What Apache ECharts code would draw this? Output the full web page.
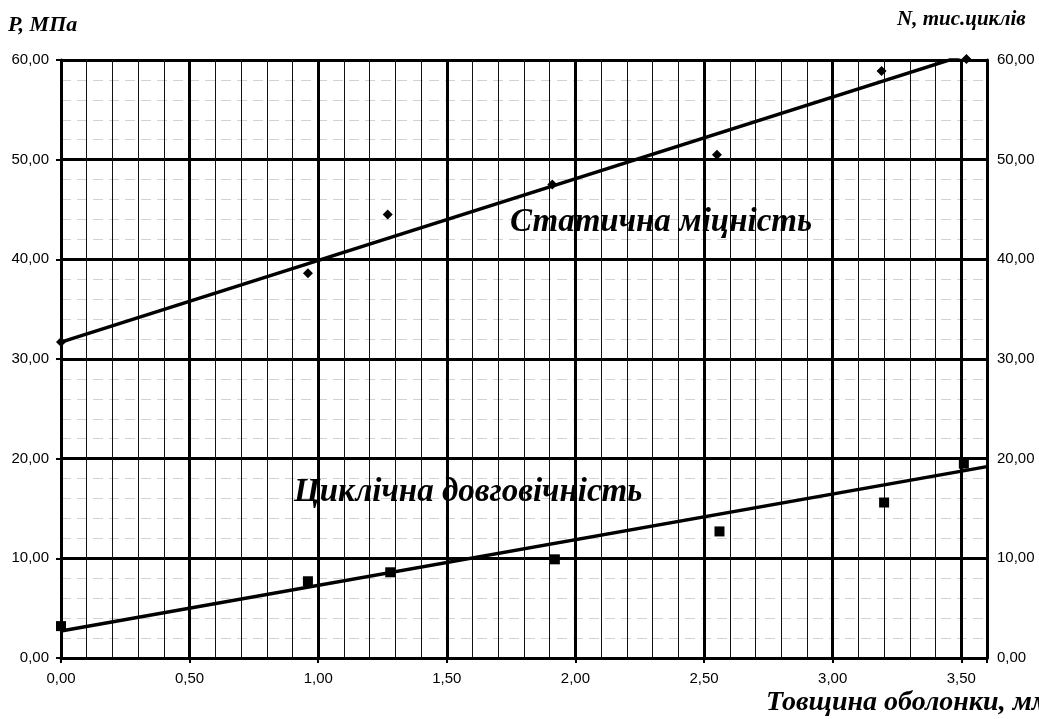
<!DOCTYPE html>
<html>
<head>
<meta charset="utf-8">
<script src="https://cdn.jsdelivr.net/npm/echarts@6/dist/echarts.min.js"></script>
<style>
html,body{margin:0;padding:0;background:#fff;}
#chart{width:1039px;height:719px;}
</style>
</head>
<body>
<div id="chart"></div>
<script>
// Data
const staticX = [0, 0.96, 1.27, 1.91, 2.55, 3.19, 3.52];
const staticY = [31.7, 38.6, 44.5, 47.5, 50.5, 58.9, 60.1];
const cyclicX = [0, 0.96, 1.28, 1.92, 2.56, 3.20, 3.51];
const cyclicY = [3.2, 7.7, 8.6, 9.9, 12.7, 15.6, 19.5];
// Trend line end points (as drawn in the reference)
const staticTrendX = [0, 3.6];
const staticTrendY = [31.7, 61.2];
const cyclicTrendX = [0, 3.6];
const cyclicTrendY = [2.7, 19.2];

const xTitle = 'Товщина оболонки, мм';
const yLeftTitle = 'P, МПа';
const yRightTitle = 'N, тис.циклів';
const staticLabel = 'Статична міцність';
const cyclicLabel = 'Циклічна довговічність';

const zip = (xs, ys) => xs.map((x, i) => [x, ys[i]]);
const fmt = v => v.toFixed(2).replace('.', ',');
const serif = '"Liberation Serif", "DejaVu Serif", serif';
const sans = '"Liberation Sans", Arial, sans-serif';

const chart = echarts.init(document.getElementById('chart'));
chart.setOption({
  animation: false,
  backgroundColor: '#fff',
  grid: { left: 61, right: 52, top: 60, bottom: 61, containLabel: false },
  xAxis: [
    {
      type: 'value', min: 0, max: 3.6, interval: 0.1, position: 'bottom',
      axisLine: { show: false }, axisTick: { show: false }, axisLabel: { show: false },
      splitLine: { show: true, lineStyle: { color: '#111', width: 1 } }
    },
    {
      type: 'value', min: 0, max: 3.6, interval: 0.5, position: 'bottom',
      axisLine: { show: true, onZero: false, lineStyle: { color: '#000', width: 3 } },
      axisTick: { show: true, length: 5, lineStyle: { color: '#000', width: 2 } },
      axisLabel: {
        show: true, margin: 13, color: '#000', fontFamily: sans, fontSize: 15,
        formatter: v => (Math.abs(v / 0.5 - Math.round(v / 0.5)) < 1e-6 ? fmt(v) : '')
      },
      splitLine: { show: true, lineStyle: { color: '#000', width: 3 } }
    }
  ],
  yAxis: [
    {
      type: 'value', min: 0, max: 60, interval: 10, position: 'left',
      axisLine: { show: true, onZero: false, lineStyle: { color: '#000', width: 3 } },
      axisTick: { show: true, length: 5, lineStyle: { color: '#000', width: 2 } },
      axisLabel: { color: '#000', fontFamily: sans, fontSize: 15, margin: 12, formatter: fmt },
      splitLine: { show: true, lineStyle: { color: '#000', width: 3 } },
      minorTick: { show: false, splitNumber: 5 },
      minorSplitLine: { show: true, lineStyle: { color: '#d2d2d2', width: 1, type: [10, 6] } }
    },
    {
      type: 'value', min: 0, max: 60, interval: 10, position: 'right',
      axisLine: { show: true, onZero: false, lineStyle: { color: '#000', width: 3 } },
      axisTick: { show: false },
      axisLabel: { color: '#000', fontFamily: sans, fontSize: 15, margin: 10, formatter: fmt, padding: [0, 0, 10, 0] },
      splitLine: { show: false }
    }
  ],
  series: [
    {
      type: 'line', xAxisIndex: 1, yAxisIndex: 0, data: zip(staticTrendX, staticTrendY),
      showSymbol: false, symbol: 'none', clip: true,
      lineStyle: { color: '#000', width: 3.5 }, z: 5
    },
    {
      type: 'line', xAxisIndex: 1, yAxisIndex: 0, data: zip(cyclicTrendX, cyclicTrendY),
      showSymbol: false, symbol: 'none', clip: true,
      lineStyle: { color: '#000', width: 3.5 }, z: 5
    },
    {
      type: 'scatter', xAxisIndex: 1, yAxisIndex: 0, data: zip(staticX, staticY), clip: false,
      symbol: 'diamond', symbolSize: 10, itemStyle: { color: '#000', opacity: 1 }, z: 6
    },
    {
      type: 'scatter', xAxisIndex: 1, yAxisIndex: 0, data: zip(cyclicX, cyclicY), clip: false,
      symbol: 'rect', symbolSize: 10, itemStyle: { color: '#000', opacity: 1 }, z: 6
    }
  ],
  graphic: [
    { type: 'text', x: 8, y: 25, z: 100, style: { text: yLeftTitle, fontFamily: serif, fontWeight: 'bold', fontStyle: 'italic', fontSize: 22, fill: '#000', verticalAlign: 'middle' } },
    { type: 'text', x: 897, y: 20, z: 100, style: { text: yRightTitle, fontFamily: serif, fontWeight: 'bold', fontStyle: 'italic', fontSize: 21, fill: '#000', verticalAlign: 'middle' } },
    { type: 'text', x: 510, y: 222, z: 100, style: { text: staticLabel, fontFamily: serif, fontWeight: 'bold', fontStyle: 'italic', fontSize: 33, fill: '#000', verticalAlign: 'middle' } },
    { type: 'text', x: 294, y: 492, z: 100, style: { text: cyclicLabel, fontFamily: serif, fontWeight: 'bold', fontStyle: 'italic', fontSize: 33, fill: '#000', verticalAlign: 'middle' } },
    { type: 'text', x: 766, y: 703, z: 100, style: { text: xTitle, fontFamily: serif, fontWeight: 'bold', fontStyle: 'italic', fontSize: 28, fill: '#000', verticalAlign: 'middle' } }
  ]
});
</script>
</body>
</html>
